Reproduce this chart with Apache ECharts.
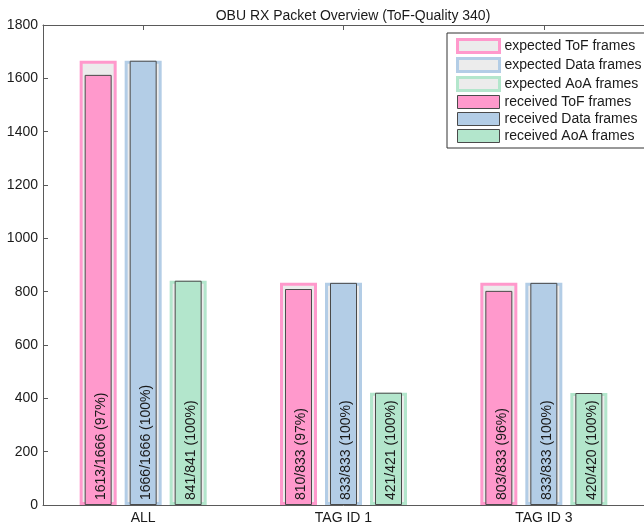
<!DOCTYPE html>
<html>
<head>
<meta charset="utf-8">
<style>
  html, body { margin: 0; padding: 0; background: #fff; }
  #chart { width: 644px; height: 528px; }
</style>
<script src="https://cdn.jsdelivr.net/npm/echarts@6/dist/echarts.min.js"></script>
</head>
<body>
<div id="chart"></div>
<script>
// Frame counts per tag
const categories = ['ALL', 'TAG ID 1', 'TAG ID 3'];
const expectedToF = [1666, 833, 833];
const expectedData = [1666, 833, 833];
const expectedAoA = [841, 421, 420];
const receivedToF = [1613, 810, 803];
const receivedData = [1666, 833, 833];
const receivedAoA = [841, 421, 420];
const yTicks = [0, 200, 400, 600, 800, 1000, 1200, 1400, 1600, 1800];

const FONT = "'Liberation Sans', Arial, Helvetica, sans-serif";
const TEXT = '#1a1a1a';
const AXIS = '#5a5a5a';
const EDGE = '#4a4a4a';
const EXP_FILL = '#ececec';
const PINK = '#ff99cc';
const BLUE = '#b3cde6';
const GREEN = '#b3e6cc';

const chart = echarts.init(document.getElementById('chart'), null, { renderer: 'canvas' });

function ratioLabel(received, expected) {
  return function (p) {
    const r = received[p.dataIndex], e = expected[p.dataIndex];
    return r + '/' + e + ' (' + Math.round(r / e * 100) + '%)';
  };
}

// Wide outlined bars for the expected counts
function expectedSeries(name, values, color) {
  return {
    name: name, type: 'bar', xAxisIndex: 0, yAxisIndex: 0,
    data: values, barWidth: 37, barGap: '21.62%',
    itemStyle: { color: EXP_FILL, borderColor: color, borderWidth: 3 },
    emphasis: { disabled: true },
    animation: false
  };
}

// Narrower filled bars for the received counts, drawn on top
function receivedSeries(name, values, expected, color) {
  return {
    name: name, type: 'bar', xAxisIndex: 1, yAxisIndex: 0,
    data: values, barWidth: 27, barGap: '66.67%',
    itemStyle: { color: color, borderColor: EDGE, borderWidth: 1 },
    label: {
      show: true, position: 'insideBottom', rotate: 90,
      align: 'left', verticalAlign: 'middle', distance: 5,
      offset: [0, 3],
      fontFamily: FONT, fontSize: 14, color: TEXT,
      formatter: ratioLabel(values, expected)
    },
    emphasis: { disabled: true },
    animation: false
  };
}

const legendItems = [
  { name: 'expected ToF frames', itemStyle: { color: EXP_FILL, borderColor: PINK, borderWidth: 3 } },
  { name: 'expected Data frames', itemStyle: { color: EXP_FILL, borderColor: BLUE, borderWidth: 3 } },
  { name: 'expected AoA frames', itemStyle: { color: EXP_FILL, borderColor: GREEN, borderWidth: 3 } },
  { name: 'received ToF frames', itemStyle: { color: PINK, borderColor: EDGE, borderWidth: 1 } },
  { name: 'received Data frames', itemStyle: { color: BLUE, borderColor: EDGE, borderWidth: 1 } },
  { name: 'received AoA frames', itemStyle: { color: GREEN, borderColor: EDGE, borderWidth: 1 } }
];

chart.setOption({
  animation: false,
  backgroundColor: '#ffffff',
  title: {
    text: 'OBU RX Packet Overview (ToF-Quality 340)',
    left: 348, top: 4, textAlign: 'center',
    textStyle: { fontFamily: FONT, fontSize: 14, fontWeight: 'normal', color: TEXT }
  },
  legend: {
    orient: 'vertical', left: 447, top: 33,
    padding: [5, 6, 5, 9],
    backgroundColor: '#ffffff', borderColor: '#333333', borderWidth: 1, borderRadius: 0,
    itemWidth: 42, itemHeight: 13, itemGap: 3,
    icon: 'rect',
    selectedMode: false,
    textStyle: { fontFamily: FONT, fontSize: 14, color: TEXT, lineHeight: 13 },
    data: legendItems
  },
  grid: { left: 43, top: 25, width: 606, height: 480, containLabel: false },
  xAxis: [
    {
      type: 'category', data: categories, position: 'bottom',
      axisLine: { lineStyle: { color: AXIS, width: 1 } },
      axisTick: { show: true, inside: true, alignWithLabel: true, length: 5, lineStyle: { color: AXIS } },
      axisLabel: { fontFamily: FONT, fontSize: 14, color: TEXT, margin: 6 },
      splitLine: { show: false }
    },
    {
      type: 'category', data: categories, position: 'bottom', show: false
    },
    {
      type: 'category', data: categories, position: 'top',
      axisLine: { lineStyle: { color: AXIS, width: 1 } },
      axisTick: { show: true, inside: true, alignWithLabel: true, length: 5, lineStyle: { color: AXIS } },
      axisLabel: { show: false },
      splitLine: { show: false }
    }
  ],
  yAxis: {
    type: 'value', min: yTicks[0], max: yTicks[yTicks.length - 1], interval: yTicks[1] - yTicks[0],
    axisLine: { show: true, lineStyle: { color: AXIS, width: 1 } },
    axisTick: { show: true, inside: true, length: 5, lineStyle: { color: AXIS } },
    axisLabel: { fontFamily: FONT, fontSize: 14, color: TEXT, margin: 5, formatter: function (v) { return String(v); } },
    splitLine: { show: false }
  },
  series: [
    expectedSeries('expected ToF frames', expectedToF, PINK),
    expectedSeries('expected Data frames', expectedData, BLUE),
    expectedSeries('expected AoA frames', expectedAoA, GREEN),
    receivedSeries('received ToF frames', receivedToF, expectedToF, PINK),
    receivedSeries('received Data frames', receivedData, expectedData, BLUE),
    receivedSeries('received AoA frames', receivedAoA, expectedAoA, GREEN)
  ]
});
</script>
</body>
</html>
